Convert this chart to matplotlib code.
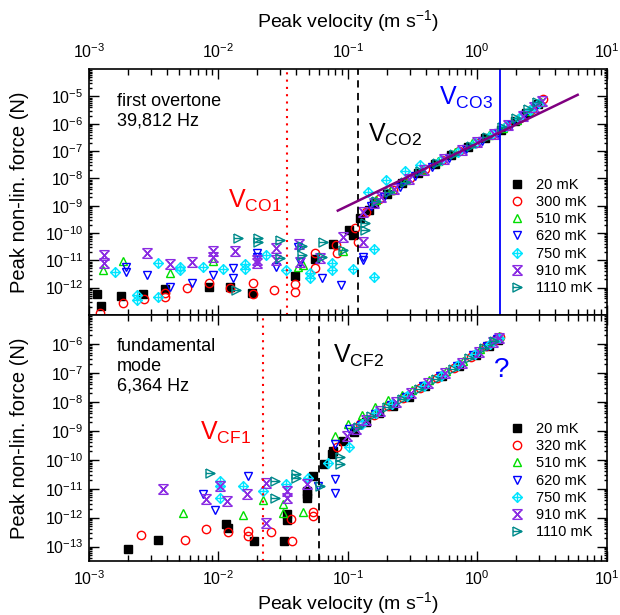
import numpy as np
import matplotlib
matplotlib.use('Agg')
from matplotlib import pyplot as plt
from matplotlib.path import Path
from matplotlib.ticker import LogLocator, NullFormatter

plt.rcParams['font.family'] = ['Liberation Sans', 'DejaVu Sans']
plt.rcParams['mathtext.fontset'] = 'custom'
plt.rcParams['mathtext.rm'] = 'Liberation Sans'
plt.rcParams['mathtext.it'] = 'Liberation Sans:italic'
plt.rcParams['axes.unicode_minus'] = False

# ---- first overtone (39,812 Hz), peak velocity (m/s) and peak non-lin. force (N)
o20_v = [1.16e-3, 1.23e-3, 1.78e-3, 2.63e-3, 3.86e-3, 8.5e-3, 1.24e-2, 1.83e-2, 3.89e-2,
         5.56e-2, 7.7e-2, 0.102, 0.11, 0.124, 0.146,
         0.158, 0.200, 0.263, 0.347, 0.468, 0.631, 0.851, 1.148, 1.514, 1.95, 2.40, 2.95]
o20_f = [5.9e-13, 2.1e-13, 4.9e-13, 5.9e-13, 8.7e-13, 1.08e-12, 1.08e-12, 6.5e-13, 2.66e-12,
         1.1e-11, 3.9e-11, 1.3e-10, 8.5e-11, 3.5e-10, 6.9e-10,
         1.29e-9, 2.7e-9, 6.5e-9, 1.6e-8, 3.4e-8, 6.9e-8, 1.45e-7, 2.95e-7, 5.9e-7, 1.23e-6, 2.5e-6, 5.5e-6]

o300_v = [1.22e-3, 1.84e-3, 2.66e-3, 3.9e-3, 3.9e-3, 5.7e-3, 8.5e-3, 1.23e-2, 1.84e-2, 1.84e-2,
          2.69e-2, 3.9e-2, 3.9e-2, 5.56e-2, 5.6e-2, 8.07e-2, 8.2e-2, 0.113, 0.12, 0.139,
          0.174, 0.224, 0.302, 0.398, 0.537, 0.724, 0.977, 1.318, 1.70, 2.14, 2.63, 3.24]
o300_f = [1.15e-13, 2.7e-13, 3.7e-13, 4.4e-13, 6.1e-13, 1.0e-12, 1.5e-12, 1.0e-12, 1.5e-12, 5.9e-13,
          8.1e-13, 1.35e-12, 7.1e-13, 1.9e-11, 5.1e-12, 3.5e-11, 1.8e-11, 1.5e-10, 4.8e-11, 6e-10,
          1.74e-9, 3.9e-9, 1.0e-8, 2.3e-8, 4.7e-8, 9.8e-8, 2.0e-7, 4.1e-7, 8.1e-7, 1.6e-6, 3.5e-6, 7.8e-6]

o510_v = [1.29e-3, 1.84e-3, 4.22e-3, 9.1e-3, 4.1e-2, 4.5e-2, 9.2e-2,
          0.166, 0.214, 0.282, 0.372, 0.501, 0.676, 0.912, 1.23, 1.585, 2.04, 2.51, 3.09]
o510_f = [4.5e-12, 9.5e-12, 3.3e-12, 9.8e-12, 5.9e-12, 6.8e-12, 2.1e-11,
          1.66e-9, 3.7e-9, 9.1e-9, 2.1e-8, 4.5e-8, 9.1e-8, 1.9e-7, 3.9e-7, 7.2e-7, 1.41e-6, 2.95e-6, 6.5e-6]

o620_v = [1.93e-3, 1.93e-3, 2.79e-3, 4.22e-3, 6.2e-3, 9.1e-3, 1.3e-2, 1.3e-2, 1.97e-2, 1.97e-2,
          2.81e-2, 4.1e-2, 4.3e-2, 6.27e-2, 8.9e-2, 0.131, 0.131,
          0.151, 0.191, 0.251, 0.331, 0.447, 0.603, 0.813, 1.096, 1.445, 1.82, 2.29, 2.82]
o620_f = [5.9e-12, 3.8e-12, 2.9e-12, 1.07e-12, 1.5e-12, 2.9e-12, 5.1e-12, 2.2e-12, 1.8e-11, 1.35e-11,
          5.9e-12, 3.1e-11, 8.9e-12, 2.2e-12, 1.26e-12, 1.35e-11, 1.0e-11,
          9.8e-10, 2.0e-9, 5.0e-9, 1.2e-8, 2.7e-8, 5.5e-8, 1.15e-7, 2.3e-7, 4.6e-7, 9.3e-7, 2.1e-6, 4.6e-6]

o750_v = [1.59e-3, 2.33e-3, 2.33e-3, 3.43e-3, 3.43e-3, 5.05e-3, 5.05e-3, 7.6e-3, 1.09e-2, 1.6e-2,
          1.6e-2, 2.35e-2, 3.35e-2, 5.1e-2, 5.1e-2, 7.5e-2, 7.5e-2, 0.109, 0.159, 0.159,
          0.144, 0.199, 0.275, 0.36, 0.525, 0.708, 0.955, 1.29, 1.66, 2.09, 2.57, 3.02]
o750_f = [3.8e-12, 5.4e-13, 3.5e-13, 4.4e-13, 7.7e-12, 5.9e-12, 4.5e-12, 5.9e-12, 4.7e-12, 7.4e-12,
          4.7e-12, 1.6e-11, 4.5e-12, 3.3e-12, 2.2e-12, 7.8e-12, 4.5e-12, 4.7e-12, 2.5e-11, 2.5e-12,
          3.2e-9, 8.7e-9, 1.8e-8, 3.1e-8, 4.8e-8, 9.6e-8, 2.0e-7, 4.1e-7, 8.0e-7, 1.6e-6, 3.3e-6, 6.0e-6]

o910_v = [1.31e-3, 1.31e-3, 2.79e-3, 4.22e-3, 6.2e-3, 9.1e-3, 9.1e-3, 1.34e-2, 1.97e-2, 1.97e-2,
          2.81e-2, 2.81e-2, 4.2e-2, 4.26e-2, 6.1e-2, 9.2e-2, 0.131,
          0.132, 0.158, 0.182, 0.229, 0.295, 0.389, 0.55, 0.759, 1.0, 1.35, 1.74, 2.24, 2.75, 3.16]
o910_f = [1.6e-11, 8.1e-12, 1.8e-11, 7.4e-12, 8.9e-12, 2.1e-11, 1.35e-11, 2.1e-11, 1.0e-11, 7.8e-12,
          2.8e-11, 1.0e-11, 3.9e-11, 8.9e-12, 1.2e-11, 7.4e-11, 4.8e-11,
          6.0e-10, 1.3e-9, 2.0e-9, 4.2e-9, 9.3e-9, 2.1e-8, 5.0e-8, 1.07e-7, 2.1e-7, 4.4e-7, 8.7e-7, 1.9e-6, 4.2e-6, 7.1e-6]

o1110_v = [1.38e-2, 1.42e-2, 2.03e-2, 2.03e-2, 2.99e-2, 2.99e-2, 4.4e-2, 4.4e-2, 6.3e-2, 6.46e-2,
           9.2e-2, 0.135, 0.135,
           0.166, 0.209, 0.275, 0.363, 0.49, 0.661, 0.891, 1.20, 1.55, 2.0, 2.45, 2.88]
o1110_f = [8.1e-13, 6.5e-11, 6.5e-11, 4.8e-11, 5.5e-11, 1.2e-11, 3.2e-11, 1.6e-11, 1.35e-11, 4.8e-11,
           2.4e-11, 2.3e-10, 1.3e-10,
           1.5e-9, 3.1e-9, 7.5e-9, 1.8e-8, 3.7e-8, 7.7e-8, 1.6e-7, 3.3e-7, 7.9e-7, 1.6e-6, 3.4e-6, 6.3e-6]

# ---- fundamental mode (6,364 Hz)
f20_v = [1.99e-3, 3.43e-3, 1.14e-2, 1.18e-2, 1.88e-2, 3.22e-2, 3.37e-2, 3.37e-2, 4.8e-2, 4.8e-2,
         4.8e-2, 5.4e-2, 6.6e-2, 7.5e-2, 7.7e-2, 9.2e-2,
         0.112, 0.138, 0.174, 0.224, 0.295, 0.398, 0.537, 0.724, 0.977, 1.23, 1.445]
f20_f = [7.9e-14, 1.66e-13, 6.2e-13, 4.5e-13, 1.55e-13, 1.6e-13, 1.38e-12, 8.1e-13, 8.3e-12, 4.9e-12,
         6.4e-12, 2.8e-11, 7.1e-11, 1.58e-10, 2.0e-10, 4.6e-10,
         9.3e-10, 2.0e-9, 4.2e-9, 7.2e-9, 1.5e-8, 3.4e-8, 7.6e-8, 1.74e-7, 4.2e-7, 8.3e-7, 1.38e-6]

f320_v = [2.52e-3, 5.5e-3, 7.95e-3, 1.19e-2, 1.7e-2, 1.7e-2, 2.57e-2, 3.67e-2, 3.7e-2, 5.4e-2,
          5.4e-2, 8.2e-2, 0.124,
          0.158, 0.204, 0.269, 0.363, 0.49, 0.661, 0.891, 1.175, 1.38, 1.51]
f320_f = [2.45e-13, 1.66e-13, 3.9e-13, 3.2e-13, 3.4e-13, 2.3e-13, 3.1e-13, 9.1e-13, 1.6e-13, 1.58e-12,
          1.14e-12, 2.7e-10, 1.74e-9,
          3.5e-9, 6.9e-9, 1.35e-8, 3.0e-8, 6.6e-8, 1.5e-7, 3.5e-7, 8.2e-7, 1.35e-6, 1.78e-6]

f510_v = [5.3e-3, 1.54e-2, 2.22e-2, 3.16e-2, 3.16e-2, 4.47e-2, 7.9e-2,
          0.1, 0.128, 0.162, 0.205, 0.26, 0.316, 0.427, 0.575, 0.776, 1.047, 1.29, 1.48]
f510_f = [1.41e-12, 1.2e-12, 4.0e-12, 2.9e-12, 1.41e-12, 1.6e-12, 6.8e-10,
          1.74e-9, 3.4e-9, 6.6e-9, 1.12e-8, 1.7e-8, 2.5e-8, 5.5e-8, 1.17e-7, 2.6e-7, 6.5e-7, 1.23e-6, 1.86e-6]

f620_v = [7.6e-3, 9.4e-3, 1.7e-2, 5.9e-2, 7.9e-2, 7.9e-2, 7.9e-2, 0.103,
          0.126, 0.162, 0.214, 0.282, 0.38, 0.513, 0.692, 0.933, 1.20, 1.41]
f620_f = [6.4e-12, 1.8e-12, 2.8e-11, 1.26e-11, 2.1e-11, 7.2e-12, 3.6e-10, 1.18e-9,
          1.6e-9, 3.8e-9, 7.8e-9, 1.5e-8, 3.4e-8, 7.6e-8, 1.7e-7, 4.1e-7, 8.8e-7, 1.44e-6]

f750_v = [1.03e-2, 1.03e-2, 1.03e-2, 1.56e-2, 2.22e-2, 3.3e-2, 4.9e-2, 7.05e-2, 0.103,
          0.129, 0.166, 0.219, 0.288, 0.389, 0.525, 0.708, 0.955, 1.26, 1.46]
f750_f = [1.86e-11, 1.26e-11, 4.9e-12, 1.26e-11, 8.3e-12, 1.5e-11, 2.4e-11, 7.4e-11, 2.7e-10,
          1.74e-9, 4.1e-9, 8.1e-9, 1.6e-8, 3.6e-8, 8.1e-8, 1.8e-7, 4.4e-7, 1.0e-6, 1.6e-6]

f910_v = [3.75e-3, 7.95e-3, 1.03e-2, 1.16e-2, 1.65e-2, 2.35e-2, 2.35e-2, 3.4e-2, 3.4e-2, 4.8e-2, 9.8e-2,
          0.115, 0.138, 0.178, 0.234, 0.309, 0.417, 0.562, 0.759, 1.023, 1.318, 1.48]
f910_f = [9.5e-12, 4.3e-12, 1.26e-11, 3.8e-12, 6.4e-12, 1.6e-11, 6.6e-13, 8.3e-12, 4.9e-12, 1.45e-11, 6.8e-10,
          1.15e-9, 2.3e-9, 5.0e-9, 9.5e-9, 1.95e-8, 4.3e-8, 9.8e-8, 2.2e-7, 5.2e-7, 1.15e-6, 1.66e-6]

f1110_v = [8.6e-3, 2.73e-2, 2.73e-2, 4.0e-2, 4.0e-2, 6.1e-2, 8.7e-2, 8.7e-2,
           0.12, 0.151, 0.2, 0.263, 0.355, 0.479, 0.646, 0.871, 1.12, 1.35]
f1110_f = [3.6e-11, 1.86e-11, 4.9e-12, 3.2e-11, 2.4e-11, 1.26e-11, 1.2e-10, 7.1e-11,
           1.35e-9, 3.2e-9, 6.6e-9, 1.26e-8, 2.8e-8, 6.3e-8, 1.41e-7, 3.2e-7, 7.2e-7, 1.26e-6]

over_labels = ['20 mK', '300 mK', '510 mK', '620 mK', '750 mK', '910 mK', '1110 mK']
fund_labels = ['20 mK', '320 mK', '510 mK', '620 mK', '750 mK', '910 mK', '1110 mK']

fit_v = [0.0837, 5.97]
fit_f = [6.6e-10, 1.15e-5]

v_co1, v_co2, v_co3 = 0.0338, 0.119, 1.49
v_cf1, v_cf2 = 0.0221, 0.060

# ---- marker shapes
M, L = Path.MOVETO, Path.LINETO
diamond_plus = Path([(0, 1), (1, 0), (0, -1), (-1, 0), (0, 1), (0, 1), (0, -1), (-1, 0), (1, 0)],
                    [M, L, L, L, L, M, L, M, L])
x_hour = Path([(-1, -1), (1, 1), (-1, 1), (1, -1), (-1, 1), (1, 1), (-1, -1), (1, -1),
               (-0.5, 0.6), (0.5, -0.6), (-0.5, -0.6), (0.5, 0.6)],
              [M, L, M, L, M, L, M, L, M, L, M, L])
tri_line = Path([(-1, 1), (1, 0), (-1, -1), (-1, 1), (-1, 0), (1, 0)],
                [M, L, L, L, M, L])

colors = ['black', '#ff0000', '#00dd00', '#0000ff', '#00e5ff', '#8a2be2', '#008b8b']
markers = ['s', 'o', '^', 'v', diamond_plus, x_hour, tri_line]
sizes = [5.5, 6, 6, 6, 7, 7, 6.5]

over = [(o20_v, o20_f), (o300_v, o300_f), (o510_v, o510_f), (o620_v, o620_f),
        (o750_v, o750_f), (o910_v, o910_f), (o1110_v, o1110_f)]
fund = [(f20_v, f20_f), (f320_v, f320_f), (f510_v, f510_f), (f620_v, f620_f),
        (f750_v, f750_f), (f910_v, f910_f), (f1110_v, f1110_f)]

fig = plt.figure(figsize=(6.2, 6.15), dpi=100)
ax1 = fig.add_axes([0.1435, 0.488, 0.835, 0.3995])
ax2 = fig.add_axes([0.1435, 0.0878, 0.835, 0.4])


def draw(ax, data, labels):
    for i, (v, f) in enumerate(data):
        filled = i == 0
        ax.plot(v, f, ls='none', marker=markers[i], ms=sizes[i], mec=colors[i],
                mfc=colors[i] if filled else 'none', mew=1.0, label=labels[i])


draw(ax1, over, over_labels)
draw(ax2, fund, fund_labels)

ax1.plot(fit_v, fit_f, color='#800080', lw=1.8, zorder=5)
ax1.axvline(v_co1, color='#ff0000', ls=(0, (1, 2.5)), lw=1.5)
ax1.axvline(v_co2, color='black', ls=(0, (4, 3)), lw=1.3)
ax1.axvline(v_co3, color='#0000ff', lw=1.3)
ax2.axvline(v_cf1, color='#ff0000', ls=(0, (1, 2.5)), lw=1.5)
ax2.axvline(v_cf2, color='black', ls=(0, (4, 3)), lw=1.3)

for ax in (ax1, ax2):
    ax.set_xscale('log')
    ax.set_yscale('log')
    ax.set_xlim(1e-3, 10)
    ax.xaxis.set_major_locator(LogLocator(base=10, numticks=10))
    ax.xaxis.set_minor_locator(LogLocator(base=10, subs=np.arange(2, 10), numticks=100))
    ax.yaxis.set_minor_locator(LogLocator(base=10, subs=np.arange(2, 10), numticks=100))
    ax.xaxis.set_minor_formatter(NullFormatter())
    ax.yaxis.set_minor_formatter(NullFormatter())
    ax.tick_params(which='both', direction='in', top=True, right=True, width=1)
    ax.tick_params(which='major', length=7, labelsize=11.5)
    ax.tick_params(axis='x', which='minor', length=4)
    ax.tick_params(axis='y', which='minor', length=2)
    ax.tick_params(axis='x', pad=6)
    ax.tick_params(axis='y', pad=4)
    for s in ax.spines.values():
        s.set_linewidth(1.2)
    ax.set_ylabel('Peak non-lin. force (N)', fontsize=14.5)
    ax.yaxis.set_label_coords(-0.115, 0.5)

ax1.set_ylim(1e-13, 1e-4)
ax1.set_yticks([1e-12, 1e-11, 1e-10, 1e-9, 1e-8, 1e-7, 1e-6, 1e-5])
ax2.set_ylim(10 ** -13.5, 1e-5)
ax2.set_yticks([1e-13, 1e-12, 1e-11, 1e-10, 1e-9, 1e-8, 1e-7, 1e-6])

ax1.tick_params(axis='x', labeltop=True, labelbottom=False)
ax1.xaxis.set_label_position('top')
ax1.set_xlabel('Peak velocity (m s$^{-1}$)', fontsize=14)
ax1.xaxis.set_label_coords(0.5, 1.17)
ax2.set_xlabel('Peak velocity (m s$^{-1}$)', fontsize=14)
ax2.xaxis.set_label_coords(0.5, -0.118)

ax1.text(0.054, 0.905, 'first overtone\n39,812 Hz', transform=ax1.transAxes,
         fontsize=13, va='top', ha='left')
ax2.text(0.054, 0.905, 'fundamental\nmode\n6,364 Hz', transform=ax2.transAxes,
         fontsize=13, va='top', ha='left')

ax1.text(0.268, 0.435, r'V$_{\mathregular{CO1}}$', transform=ax1.transAxes,
         color='#ff0000', fontsize=18, va='baseline')
ax1.text(0.539, 0.705, r'V$_{\mathregular{CO2}}$', transform=ax1.transAxes,
         color='black', fontsize=18, va='baseline')
ax1.text(0.676, 0.855, r'V$_{\mathregular{CO3}}$', transform=ax1.transAxes,
         color='#0000ff', fontsize=18, va='baseline')
ax2.text(0.214, 0.492, r'V$_{\mathregular{CF1}}$', transform=ax2.transAxes,
         color='#ff0000', fontsize=18, va='baseline')
ax2.text(0.472, 0.804, r'V$_{\mathregular{CF2}}$', transform=ax2.transAxes,
         color='black', fontsize=18, va='baseline')
ax2.text(0.797, 0.776, '?', transform=ax2.transAxes, color='#0000ff',
         fontsize=20, ha='center', va='center')

for ax, y0 in ((ax1, 0.558), (ax2, 0.565)):
    ax.legend(loc='upper left', bbox_to_anchor=(0.812, y0), frameon=False,
              fontsize=10.5, handlelength=1.0, handletextpad=0.85, labelspacing=0.22,
              borderpad=0, borderaxespad=0, numpoints=1)

fig.savefig('out.png', dpi=100)
